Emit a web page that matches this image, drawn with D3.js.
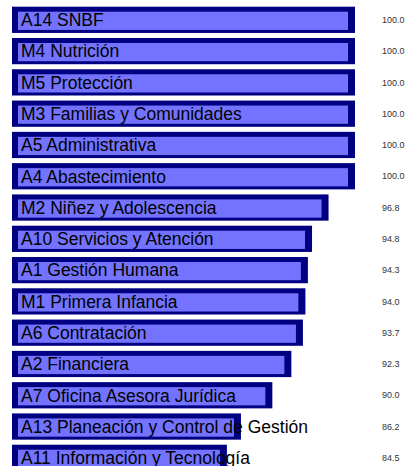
<!DOCTYPE html>
<html>
<head>
<meta charset="utf-8">
<script src="https://cdn.jsdelivr.net/npm/d3@7"></script>
<style>
  body { margin: 0; background: #fff; }
  svg { display: block; }
</style>
</head>
<body>
<svg class="chart"></svg>
<script>
var categories = ["A14 SNBF", "M4 Nutrición", "M5 Protección", "M3 Familias y Comunidades",
    "A5 Administrativa", "A4 Abastecimiento", "M2 Niñez y Adolescencia",
    "A10 Servicios y Atención", "A1 Gestión Humana", "M1 Primera Infancia",
    "A6 Contratación", "A2 Financiera", "A7 Oficina Asesora Jurídica",
    "A13 Planeación y Control de Gestión", "A11 Información y Tecnología"];
var values = [100.0, 100.0, 100.0, 100.0, 100.0, 100.0, 96.8, 94.8, 94.3, 94.0, 93.7, 92.3, 90.0, 86.2, 84.5];

function drawBars() {
    var width = 407, height = 466;

    var svg = d3.select(".chart")
        .attr("width", width)
        .attr("height", height);

    // bars do not start at zero, the scale is cut
    var x = d3.scaleLinear()
        .domain([58.5, 100])
        .range([12, 355]);

    var y = d3.scaleBand()
        .domain(categories)
        .range([6.7, 6.7 + 30.95 * categories.length])
        .paddingInner(5 / 31)
        .paddingOuter(0)
        .align(0);

    var data = categories.map(function(c, i) { return {name: c, value: values[i]}; });

    var row = svg.selectAll("g.row")
        .data(data)
      .enter().append("g")
        .attr("class", "row")
        .attr("transform", function(d) { return "translate(0," + y(d.name) + ")"; });

    // dark frame
    row.append("rect")
        .attr("x", x(58.5))
        .attr("y", 0)
        .attr("width", function(d) { return x(d.value) - x(58.5); })
        .attr("height", y.bandwidth())
        .attr("fill", "#000080");

    // light fill
    row.append("rect")
        .attr("x", x(58.5) + 6)
        .attr("y", 5)
        .attr("width", function(d) { return x(d.value) - x(58.5) - 13; })
        .attr("height", y.bandwidth() - 8)
        .attr("fill", "#7373ff");

    row.append("text")
        .attr("x", 21)
        .attr("y", 19.5)
        .style("font-family", "'Liberation Sans', Arial, sans-serif")
        .style("font-size", "17.5px")
        .style("fill", "#000")
        .text(function(d) { return d.name; });

    row.append("text")
        .attr("x", 382)
        .attr("y", y.bandwidth() / 2)
        .attr("dy", "0.36em")
        .style("font-family", "'Liberation Sans', Arial, sans-serif")
        .style("font-size", "9px")
        .style("fill", "#333")
        .text(function(d) { return d.value.toFixed(1); });
}

drawBars();
</script>
</body>
</html>
